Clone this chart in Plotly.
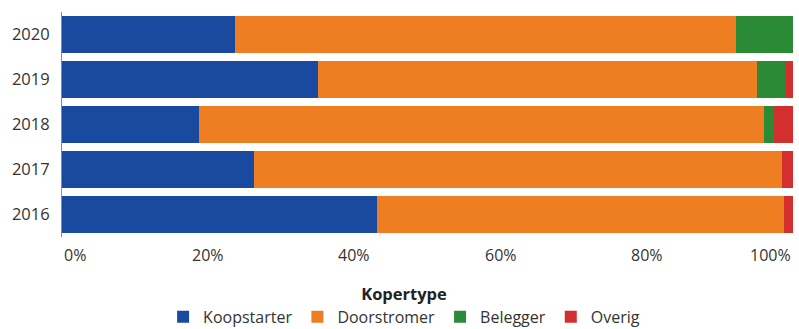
import plotly.graph_objects as go

# Share of home buyers per buyer type (fraction of total), per year
years = ["2016", "2017", "2018", "2019", "2020"]
koopstarter = [0.431, 0.263, 0.188, 0.350, 0.237]
doorstromer = [0.556, 0.722, 0.772, 0.601, 0.685]
belegger = [0.000, 0.000, 0.014, 0.039, 0.078]
overig = [0.013, 0.015, 0.026, 0.010, 0.000]

series_names = ["Koopstarter", "Doorstromer", "Belegger", "Overig"]
series_values = [koopstarter, doorstromer, belegger, overig]
series_colors = ["#1a4aa0", "#ef7d22", "#2b8a36", "#d42f2f"]

x_ticks = [0, 0.2, 0.4, 0.6, 0.8, 1.0]
x_tick_labels = ["0%", "20%", "40%", "60%", "80%", "100%"]

FONT = "Open Sans, Noto Sans, sans-serif"
TEXT_COLOR = "#333333"

fig = go.Figure()
for name, vals, color in zip(series_names, series_values, series_colors):
    fig.add_trace(go.Bar(
        y=years, x=vals, name=name, orientation="h",
        marker=dict(color=color, line=dict(width=0)),
    ))

# x-axis labels: outer labels kept inside the plot width
for v, label in zip(x_ticks, x_tick_labels):
    anchor = "left" if v == x_ticks[0] else ("right" if v == x_ticks[-1] else "center")
    fig.add_annotation(
        x=v, y=0, xref="x", yref="paper", text=label, showarrow=False,
        xanchor=anchor, yanchor="top", yshift=-5,
        font=dict(family=FONT, size=16, color=TEXT_COLOR),
    )

fig.update_layout(
    width=799, height=329,
    margin=dict(l=62, r=6, t=12, b=92, autoexpand=False),
    barmode="stack", bargap=0.17,
    paper_bgcolor="white", plot_bgcolor="white",
    font=dict(family=FONT, size=16, color=TEXT_COLOR),
    xaxis=dict(range=[0, 1], showgrid=False, zeroline=False,
               showticklabels=False, showline=False, fixedrange=True),
    yaxis=dict(categoryorder="array", categoryarray=years,
               showgrid=False, zeroline=False, showline=True,
               linecolor="#8a8a8a", linewidth=1, ticks="",
               ticklabelstandoff=8,
               tickfont=dict(family=FONT, size=16.5, color=TEXT_COLOR)),
    legend=dict(
        orientation="h", x=0.468, xanchor="center", y=-0.184, yanchor="top",
        traceorder="normal",
        title=dict(text="<b>Kopertype</b>", side="top center",
                   font=dict(family=FONT, size=16.5, color="#222222")),
        font=dict(family=FONT, size=16, color=TEXT_COLOR),
        itemwidth=30,
    ),
    showlegend=True,
)

fig.write_html("out.html")
